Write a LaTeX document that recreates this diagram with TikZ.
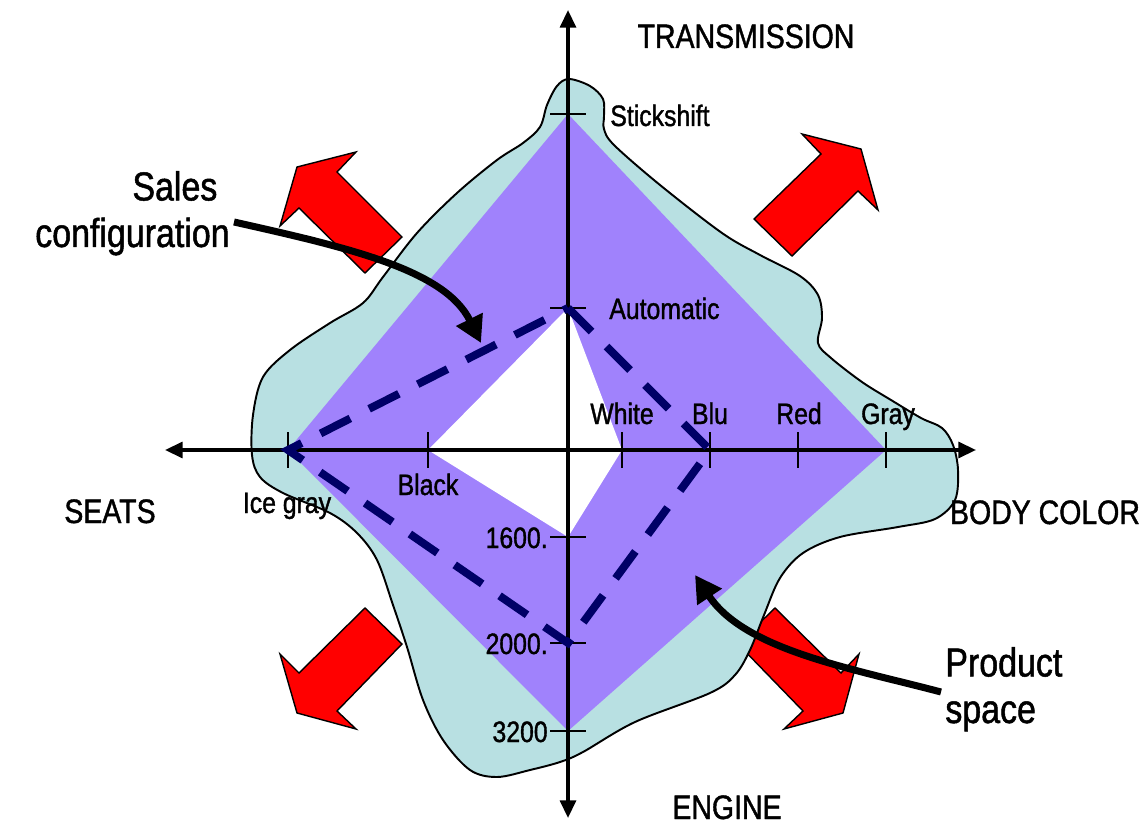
\documentclass[tikz,border=0pt]{standalone}
\usepackage{fontspec}
\setmainfont{Liberation Sans}[FakeStretch=0.84,FakeBold=1.2]
\usetikzlibrary{arrows.meta}
\definecolor{blobfill}{RGB}{184,224,226}
\definecolor{spacefill}{RGB}{160,130,252}
\definecolor{cfgnavy}{RGB}{0,0,102}
\definecolor{signred}{RGB}{255,0,0}
\begin{document}
\begin{tikzpicture}[x=0.02cm,y=-0.02cm,
  axis/.style={line width=1.9pt, {Triangle[length=10pt,width=9pt]}-{Triangle[length=10pt,width=9pt]}},
  tickmark/.style={line width=0.9pt},
  ticklabel/.style={inner sep=0pt, font=\fontsize{16.8}{19}\selectfont},
  axislabel/.style={inner sep=0pt, font=\fontsize{19.3}{23}\selectfont},
  calloutlabel/.style={inner sep=0pt, font=\fontsize{23}{26.5}\selectfont},
  growth/.style={fill=signred, draw=black, line width=0.8pt, line join=miter},
  config/.style={draw=cfgnavy, line width=4.5pt, dash pattern=on 19pt off 12pt, line join=miter},
  pointer/.style={line width=4pt, -{Triangle[length=15pt,width=16pt]}},
]
\useasboundingbox (0,0) rectangle (1146,824);

% axis ends and tick positions
\coordinate (O) at (568,450);
\coordinate (xl) at (165,450);
\coordinate (xr) at (976,450);
\coordinate (yt) at (568,10);
\coordinate (yb) at (568,818);
\coordinate (icegray) at (288,450);
\coordinate (black) at (428,450);
\coordinate (white) at (622,450);
\coordinate (blu) at (710,450);
\coordinate (red) at (798,450);
\coordinate (gray) at (886,450);
\coordinate (stick) at (568,114);
\coordinate (auto) at (568,308);
\coordinate (e1600) at (568,537);
\coordinate (e2000) at (568,643);
\coordinate (e3200) at (568,731);

% growth arrows in the four diagonal directions
\draw[growth] (356,152) -- (297,167) -- (280,226) -- (299,208) -- (365,273) -- (402,237) -- (337,172) -- cycle;
\draw[growth] (802,134) -- (861,149) -- (878,210) -- (858,191) -- (792,256) -- (754,219) -- (821,154) -- cycle;
\draw[growth] (365,608) -- (402,644) -- (337,711) -- (356,729) -- (297,713) -- (280,654) -- (299,673) -- cycle;
\draw[growth] (775,608) -- (738,644) -- (803,711) -- (784,729) -- (843,713) -- (859,654) -- (841,673) -- cycle;

% outer envelope
\draw[fill=blobfill, line width=1.1pt] plot[smooth cycle, tension=0.55] coordinates {
  (569,79) (590,86) (603,99) (604,116) (604,129) (614,145) (660,185) (722,233)
  (760,255) (800,276) (818,295) (822,318) (818,343) (831,358) (862,382) (891,400)
  (921,418) (942,428) (953,445) (958,470) (955,500) (935,519) (898,527) (840,537)
  (803,553) (780,578) (764,615) (750,650) (735,675) (710,693) (635,722) (583,752)
  (560,762) (530,770) (497,777) (470,770) (443,740) (423,700) (407,647) (393,605)
  (377,560) (357,533) (330,513) (283,493) (260,477) (252,455) (253,415) (263,377)
  (290,350) (330,323) (363,303) (383,277) (417,233) (457,193) (497,160) (523,143)
  (540,127) (547,105) (557,86)};

% product space with its empty core
\fill[spacefill] (stick) -- (gray) -- (e3200) -- (icegray) -- cycle;
\fill[white] (auto) -- (white) -- (e1600) -- (black) -- cycle;

% axes
\draw[axis] (xl) -- (xr);
\draw[axis] (yb) -- (yt);

% ticks
\foreach \p in {icegray,black,white,blu,red,gray}
  \draw[tickmark] (\p) ++(0,-18) -- ++(0,36);
\foreach \p in {stick,auto,e1600,e2000,e3200}
  \draw[tickmark] (\p) ++(-18,0) -- ++(36,0);

% sales configuration
\draw[config] (auto) -- (blu) -- (e2000) -- (icegray) -- cycle;

% tick labels
\node[ticklabel, anchor=base west] (lstick) at (610,126) {Stickshift};
\node[ticklabel, anchor=base west] (lauto) at (609,319) {Automatic};
\node[ticklabel, anchor=base] (lwhite) at (622,424) {White};
\node[ticklabel, anchor=base] (lblu) at (710,424) {Blu};
\node[ticklabel, anchor=base] (lred) at (799,424) {Red};
\node[ticklabel, anchor=base] (lgray) at (888,424) {Gray};
\node[ticklabel, anchor=base] (lblack) at (428,495) {Black};
\node[ticklabel, anchor=base] (licegray) at (287,513) {Ice gray};
\node[ticklabel, anchor=base east] (l1600) at (548,548) {1600.};
\node[ticklabel, anchor=base east] (l2000) at (548,654) {2000.};
\node[ticklabel, anchor=base east] (l3200) at (548,742) {3200};

% axis titles
\node[axislabel, anchor=base] (tTrans) at (746,48) {TRANSMISSION};
\node[axislabel, anchor=base] (tSeats) at (110,523) {SEATS};
\node[axislabel, anchor=base] (tBody) at (1045,524) {BODY COLOR};
\node[axislabel, anchor=base] (tEngine) at (727,819) {ENGINE};

% callouts
\node[calloutlabel, align=right, anchor=base east] (sales) at (230,247) {Sales\hspace*{7pt}\\configuration};
\node[calloutlabel, align=left, anchor=base west] (product) at (945,723) {Product\\space};
\coordinate (salesfrom) at (234,222);
\coordinate (salesto) at (481,343);
\coordinate (productfrom) at (941,692);
\coordinate (productto) at (695,575);
\draw[pointer] (salesfrom) .. controls (350,248) and (445,270) .. (salesto);
\draw[pointer] (productfrom) .. controls (850,668) and (745,650) .. (productto);
\end{tikzpicture}
\end{document}
